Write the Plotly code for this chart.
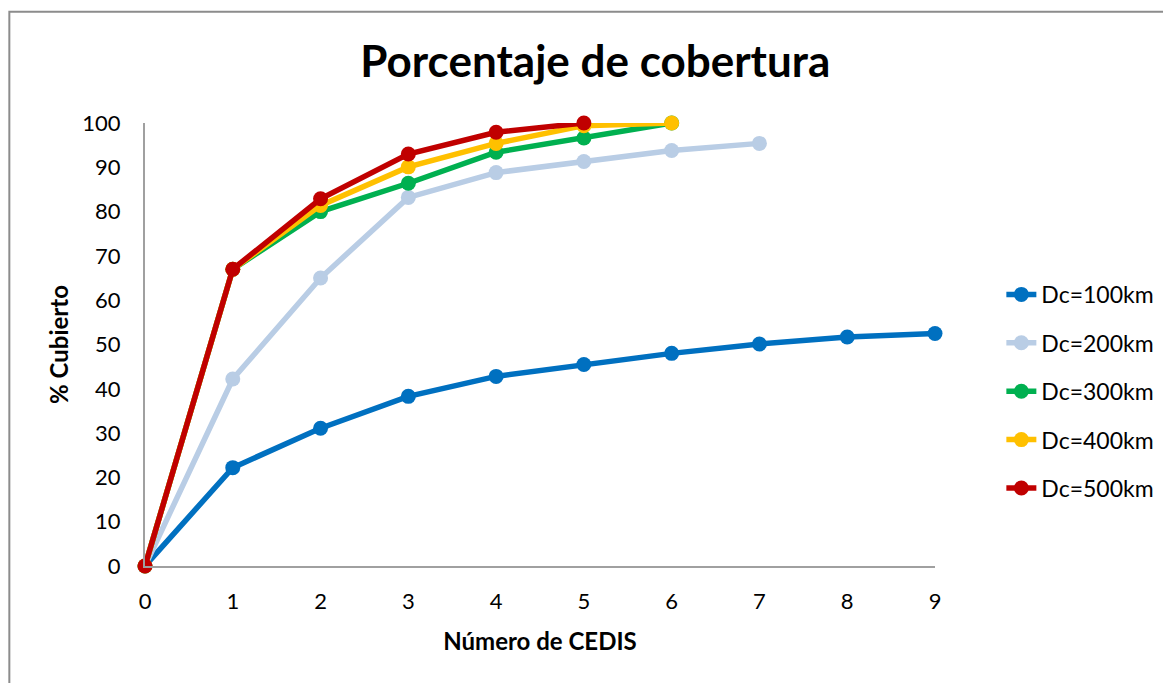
import plotly.graph_objects as go

x_cedis = [0, 1, 2, 3, 4, 5, 6, 7, 8, 9]
dc100 = [0, 22.2, 31.1, 38.3, 42.8, 45.5, 48.0, 50.1, 51.7, 52.5]
dc200 = [0, 42.2, 65.0, 83.2, 88.8, 91.3, 93.8, 95.4]
dc300 = [0, 67.0, 80.0, 86.4, 93.4, 96.6, 100]
dc400 = [0, 67.0, 81.4, 90.1, 95.4, 99.4, 100]
dc500 = [0, 67.0, 82.9, 93.0, 97.9, 100]

names = ["Dc=100km", "Dc=200km", "Dc=300km", "Dc=400km", "Dc=500km"]
series = [dc100, dc200, dc300, dc400, dc500]
colors = ["#0070C0", "#B9CDE5", "#00B050", "#FFC000", "#C00000"]

x_ticks = [0, 1, 2, 3, 4, 5, 6, 7, 8, 9]
y_ticks = [0, 10, 20, 30, 40, 50, 60, 70, 80, 90, 100]

FONT = "Lato"
W, H = 1163, 675  # page body has an 8px margin

fig = go.Figure()
for name, vals, col in zip(names, series, colors):
    fig.add_trace(go.Scatter(
        x=x_cedis[:len(vals)], y=vals, name=name, mode="lines+markers",
        line=dict(color=col, width=5.5),
        marker=dict(color=col, size=15),
        cliponaxis=False, legendgroup=name,
    ))

fig.update_layout(
    width=W, height=H,
    margin=dict(l=137, r=234, t=114.5, b=117),
    paper_bgcolor="white", plot_bgcolor="white",
    font=dict(family=FONT, color="black", size=22),
    title=dict(text="<b>Porcentaje de cobertura</b>", x=0.505, xanchor="center",
               y=1 - 54 / H, yanchor="middle",
               font=dict(family=FONT, size=44, color="black")),
    legend=dict(x=1.084, xanchor="left", y=0.394, yanchor="middle",
                font=dict(family=FONT, size=23), tracegroupgap=15.5,
                bgcolor="rgba(0,0,0,0)"),
    showlegend=True,
    shapes=[dict(type="rect", xref="paper", yref="paper",
                 x0=(1 - 137) / 792, x1=2.0, y0=-1.0, y1=(558 - 3) / 443.5,
                 line=dict(color="#8C8C8C", width=2), fillcolor="rgba(0,0,0,0)",
                 layer="below")],
)
fig.update_xaxes(range=[0, 9], tickvals=x_ticks, showgrid=False, zeroline=False,
                 showline=True, linecolor="#A0A0A0", linewidth=2, ticks="",
                 ticklabelstandoff=15, tickfont=dict(size=22),
                 title=dict(text="<b>Número de CEDIS</b>", font=dict(size=24), standoff=20))
fig.update_yaxes(range=[0, 100], tickvals=y_ticks, showgrid=False, zeroline=False,
                 showline=True, linecolor="#A0A0A0", linewidth=2, ticks="",
                 ticklabelstandoff=18, tickfont=dict(size=22),
                 title=dict(text="<b>% Cubierto</b>", font=dict(size=24), standoff=7))

fig.write_html("out.html")
